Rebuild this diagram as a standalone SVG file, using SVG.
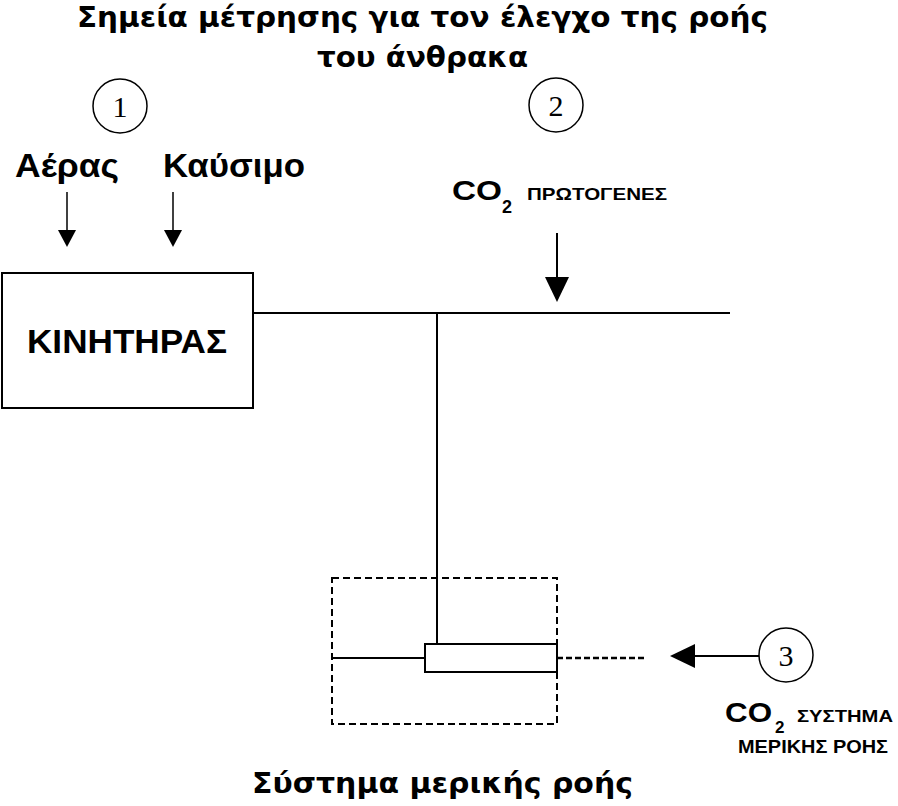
<svg xmlns="http://www.w3.org/2000/svg" width="898" height="806" viewBox="0 0 898 806">
<style>
.t{font-family:"Liberation Sans",Arial,sans-serif;font-weight:bold;fill:#000}
.d{font-family:"DejaVu Sans",Verdana,sans-serif;font-weight:bold;fill:#000}
.n{font-family:"Liberation Serif","Times New Roman",serif;font-size:30px;fill:#000;text-anchor:middle}
.ln{stroke:#000;stroke-width:2;fill:none}
.c{stroke:#000;stroke-width:1.5;fill:#fff}
</style>
<rect width="898" height="806" fill="#fff"/>
<g id="title">
<text class="d" x="77" y="27" font-size="29" textLength="691" lengthAdjust="spacingAndGlyphs">Σημεία μέτρησης για τον έλεγχο της ροής</text>
<text class="d" x="317" y="67" font-size="29" textLength="211" lengthAdjust="spacingAndGlyphs">του άνθρακα</text>
</g>
<g id="point1">
<circle class="c" cx="120" cy="106" r="27"/>
<text class="n" x="120" y="117">1</text>
</g>
<g id="point2">
<circle class="c" cx="556" cy="105" r="27"/>
<text class="n" x="556" y="116">2</text>
</g>
<g id="point3">
<circle class="c" cx="786" cy="655" r="27"/>
<text class="n" x="786" y="666">3</text>
</g>
<g id="air">
<text class="t" x="15" y="177" font-size="34" textLength="104" lengthAdjust="spacingAndGlyphs">Αέρας</text>
</g>
<g id="fuel">
<text class="t" x="163" y="177" font-size="34" textLength="142" lengthAdjust="spacingAndGlyphs">Καύσιμο</text>
</g>
<g id="engine">
<rect class="ln" x="2" y="273" width="251" height="135"/>
<text class="t" x="27" y="353" font-size="34" textLength="200" lengthAdjust="spacingAndGlyphs">ΚΙΝΗΤΗΡΑΣ</text>
</g>
<g id="co2-primary">
<text class="t" x="452" y="200" font-size="28" textLength="50" lengthAdjust="spacingAndGlyphs">CO</text>
<text class="t" x="502" y="213" font-size="18">2</text>
<text class="t" x="527" y="200" font-size="17" textLength="140" lengthAdjust="spacingAndGlyphs">ΠΡΩΤΟΓΕΝΕΣ</text>
</g>
<g id="partial-flow-system">
<rect x="332" y="578" width="225" height="146" fill="none" stroke="#000" stroke-width="2" stroke-dasharray="7,4"/>
<rect class="ln" x="425" y="644" width="132" height="28"/>
<text class="d" x="252" y="793" font-size="29" textLength="381" lengthAdjust="spacingAndGlyphs">Σύστημα μερικής ροής</text>
</g>
<g id="co2-partial">
<text class="t" x="725" y="722" font-size="27" textLength="47" lengthAdjust="spacingAndGlyphs">CO</text>
<text class="t" x="775" y="733" font-size="17">2</text>
<text class="t" x="797" y="722" font-size="17" textLength="96" lengthAdjust="spacingAndGlyphs">ΣΥΣΤΗΜΑ</text>
<text class="t" x="738" y="753" font-size="18" textLength="150" lengthAdjust="spacingAndGlyphs">ΜΕΡΙΚΗΣ ΡΟΗΣ</text>
</g>
<g id="connectors">
<line class="ln" x1="67" y1="192" x2="67" y2="232" style="stroke-width:1.5"/>
<line class="ln" x1="173" y1="192" x2="173" y2="232" style="stroke-width:1.5"/>
<path d="M58,230 L67,247 L76,230 z" fill="#000"/>
<path d="M164,230 L173,247 L182,230 z" fill="#000"/>
<line class="ln" x1="557" y1="233" x2="557" y2="280"/>
<path d="M545,277 L569,277 L557,302 z" fill="#000"/>
<line class="ln" x1="253" y1="313" x2="730" y2="313"/>
<line class="ln" x1="437" y1="313" x2="437" y2="644"/>
<line class="ln" x1="332" y1="658" x2="425" y2="658"/>
<line x1="557" y1="658" x2="647" y2="658" stroke="#000" stroke-width="2.5" stroke-dasharray="6,3"/>
<line class="ln" x1="692" y1="656" x2="759" y2="656"/>
<path d="M670,656 L695,644 L695,668 z" fill="#000"/>
</g>
</svg>
